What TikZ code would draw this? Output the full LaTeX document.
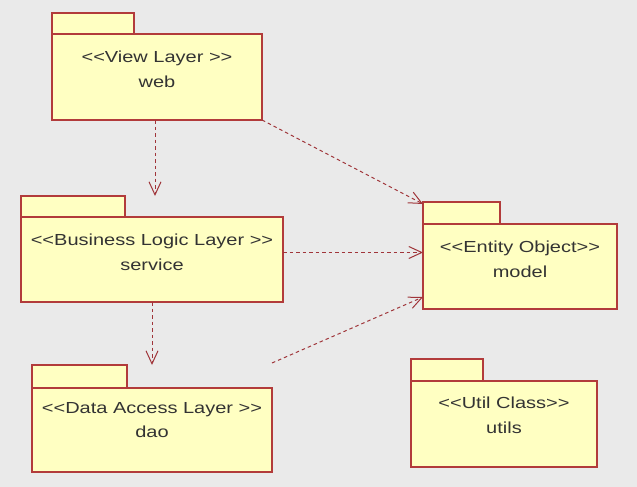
\documentclass[tikz,border=0pt]{standalone}
\usepackage{fontspec}
\usetikzlibrary{arrows.meta}
\newfontfamily\uifont{Liberation Sans}[FakeStretch=1.25]
\newcommand\lsg{<\kern0pt<}
\newcommand\rsg{>\kern0pt>}
\definecolor{bgc}{HTML}{EAEAEA}
\definecolor{pkgfill}{HTML}{FFFFC2}
\definecolor{pkgline}{HTML}{B23B3B}
\definecolor{deparrow}{HTML}{A0353A}
\tikzset{
  pkgbody/.style={draw=pkgline, fill=pkgfill, line width=1.2pt, inner sep=0pt, outer sep=0pt, anchor=north west},
  pkgtab/.style={draw=pkgline, fill=pkgfill, line width=1.2pt, inner sep=0pt, outer sep=0pt, anchor=south west},
  lbl/.style={font=\uifont\fontsize{16}{19}\selectfont, text=black!80, inner sep=0pt, anchor=base},
  dep/.style={draw=deparrow, line width=1pt, dash pattern=on 3.5pt off 3pt, -{Straight Barb[length=13pt,width=12pt,line width=1pt]}}
}
\begin{document}
\begin{tikzpicture}[x=1pt,y=-1pt]
\fill[bgc] (0,0) rectangle (637,487);
\useasboundingbox (0,0) rectangle (637,487);
% web
\node[pkgbody, minimum width=210pt, minimum height=86pt] (web) at (52,34) {};
\node[pkgtab, minimum width=82pt, minimum height=21pt] (webtab) at (web.north west) {};
\node[lbl] (webst) at (157,63) {\lsg View Layer \rsg};
\node[lbl] (webnm) at (157,88) {web};
% service
\node[pkgbody, minimum width=262pt, minimum height=85pt] (svc) at (21,217) {};
\node[pkgtab, minimum width=104pt, minimum height=21pt] (svctab) at (svc.north west) {};
\node[lbl] (svcst) at (152,245) {\lsg Business Logic Layer \rsg};
\node[lbl] (svcnm) at (152,270) {service};
% dao
\node[pkgbody, minimum width=240pt, minimum height=84pt] (dao) at (32,388) {};
\node[pkgtab, minimum width=95pt, minimum height=23pt] (daotab) at (dao.north west) {};
\node[lbl] (daost) at (152,413) {\lsg Data Access Layer \rsg};
\node[lbl] (daonm) at (152,437) {dao};
% model
\node[pkgbody, minimum width=194pt, minimum height=85pt] (model) at (423,224) {};
\node[pkgtab, minimum width=77pt, minimum height=22pt] (modeltab) at (model.north west) {};
\node[lbl] (modelst) at (520,252) {\lsg Entity Object\rsg};
\node[lbl] (modelnm) at (520,277) {model};
% utils
\node[pkgbody, minimum width=186pt, minimum height=86pt] (utils) at (411,381) {};
\node[pkgtab, minimum width=72pt, minimum height=22pt] (utilstab) at (utils.north west) {};
\node[lbl] (utilsst) at (504,408) {\lsg Util Class\rsg};
\node[lbl] (utilsnm) at (504,433) {utils};
% dependencies
\draw[dep] ([xshift=-2pt]web.south) -- ([xshift=-2pt]web.south |- svctab.north);
\draw[dep] (svc.south) -- (svc.south |- daotab.north);
\draw[dep] (web.south east) -- ([yshift=-2pt]modeltab.north west);
\draw[dep] ([yshift=7pt]svc.east) -- ([yshift=7pt]svc.east -| model.west);
\draw[dep] ([yshift=25pt]dao.north east) -- ([yshift=12pt]model.south west);
\end{tikzpicture}
\end{document}
